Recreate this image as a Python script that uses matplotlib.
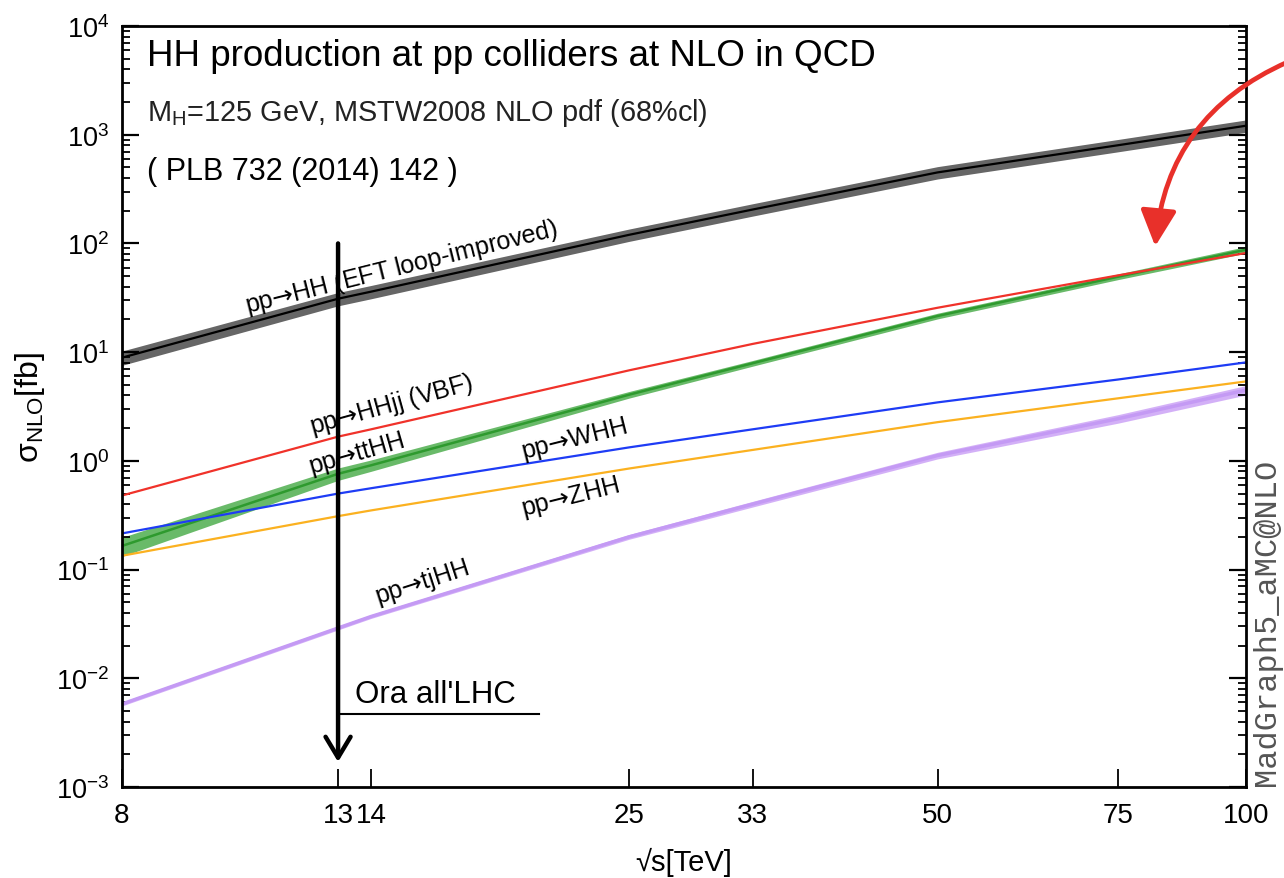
import numpy as np
import matplotlib
matplotlib.use('Agg')
import matplotlib.pyplot as plt
from matplotlib.ticker import FixedLocator, FuncFormatter, LogLocator, NullLocator, NullFormatter
from matplotlib.patches import FancyArrowPatch

plt.rcParams['font.family'] = ['Liberation Sans', 'DejaVu Sans']
plt.rcParams['mathtext.fontset'] = 'custom'
plt.rcParams['mathtext.rm'] = 'Liberation Sans'
plt.rcParams['mathtext.it'] = 'Liberation Sans:italic'
plt.rcParams['mathtext.bf'] = 'Liberation Sans:bold'
plt.rcParams['mathtext.sf'] = 'DejaVu Sans'

# ---------------- data ----------------
energies = [8, 13, 14, 25, 33, 50, 75, 100]          # sqrt(s) [TeV]
xtick_vals = [8, 13, 14, 25, 33, 50, 75, 100]
xtick_labels = ['8', '13', '14', '25', '33', '50', '75', '100']

xs_hh   = [8.9, 31.0, 36.0, 120.0, 205.0, 450.0, 800.0, 1210.0]
xs_vbf  = [0.48, 1.67, 1.95, 6.8, 11.9, 25.6, 50.8, 81.7]
xs_tthh = [0.165, 0.76, 0.91, 4.06, 7.9, 21.5, 49.4, 87.5]
xs_whh  = [0.215, 0.50, 0.56, 1.33, 1.95, 3.45, 5.6, 8.05]
xs_zhh  = [0.134, 0.31, 0.35, 0.85, 1.26, 2.27, 3.76, 5.38]
xs_tjhh = [0.0058, 0.029, 0.037, 0.20, 0.40, 1.12, 2.44, 4.48]

# relative uncertainty (band half-width)
err_hh   = [0.15, 0.14, 0.14, 0.13, 0.13, 0.13, 0.13, 0.13]
err_tthh = [0.20, 0.13, 0.12, 0.07, 0.06, 0.06, 0.06, 0.07]
err_tjhh = [0.04, 0.04, 0.04, 0.05, 0.06, 0.07, 0.09, 0.10]

ARROW = r'$\mathsf{→}$'

# ---------------- figure ----------------
fig = plt.figure(figsize=(12.84, 8.79), dpi=100)
ax = fig.add_axes([122/1284, 1-788/879, 1124/1284, 761/879])
ax.set_xscale('log')
ax.set_yscale('log')
ax.set_xlim(8, 100)
ax.set_ylim(1e-3, 1e4)

E = np.array(energies)

def band(vals, errs, color, alpha):
    v = np.array(vals); e = np.array(errs)
    ax.fill_between(E, v*(1-e), v*(1+e), color=color, alpha=alpha, lw=0)

band(xs_hh, err_hh, '#555555', 0.9)
ax.plot(E, xs_hh, color='black', lw=1.6)

band(xs_tthh, err_tthh, '#4fae4f', 0.85)
ax.plot(E, xs_tthh, color='#2e9a2e', lw=1.8)

band(xs_tjhh, err_tjhh, '#cfa8f7', 0.9)
ax.plot(E, xs_tjhh, color='#c49af4', lw=2.5)

ax.plot(E, xs_vbf, color='#f0322a', lw=1.6)
ax.plot(E, xs_whh, color='#1e3cf5', lw=1.6)
ax.plot(E, xs_zhh, color='#fbb120', lw=1.6)

# ---------------- axes styling ----------------
for s in ax.spines.values():
    s.set_linewidth(2.0)

ax.xaxis.set_major_locator(FixedLocator(xtick_vals))
ax.xaxis.set_major_formatter(FuncFormatter(
    lambda v, p: xtick_labels[xtick_vals.index(int(round(v)))] if int(round(v)) in xtick_vals else ''))
ax.xaxis.set_minor_locator(NullLocator())
ax.xaxis.set_minor_formatter(NullFormatter())

ax.yaxis.set_major_locator(FixedLocator([1e-3, 1e-2, 1e-1, 1e0, 1e1, 1e2, 1e3, 1e4]))
ax.yaxis.set_minor_locator(LogLocator(base=10, subs=np.arange(2, 10), numticks=100))
ax.yaxis.set_minor_formatter(NullFormatter())
ax.yaxis.set_major_formatter(FuncFormatter(
    lambda v, p: r'$10^{\mathrm{%s}}$' % str(int(round(np.log10(v))))))

ax.tick_params(axis='y', which='major', direction='in', length=12, width=1.6,
               left=True, right=True, labelsize=19.5, pad=9)
ax.tick_params(axis='y', which='minor', direction='in', length=6, width=1.3,
               left=True, right=True)
ax.tick_params(axis='x', which='major', direction='in', length=13, width=1.3,
               top=False, labelsize=20, pad=11)

ax.text(-0.082, 0.50, r'σ$_{\mathrm{NLO}}$[fb]', transform=ax.transAxes,
        rotation=90, ha='center', va='center', fontsize=23)
ax.text(0.50, -0.098, '√s[TeV]', transform=ax.transAxes,
        ha='center', va='center', fontsize=21)

# ---------------- header texts ----------------
fig.text(147/1284, 1-57/879, 'HH production at pp colliders at NLO in QCD',
         ha='left', va='center', fontsize=26.5)
fig.text(147/1284, 1-113/879, r'M$_{\mathrm{H}}$=125 GeV, MSTW2008 NLO pdf (68%cl)',
         ha='left', va='center', fontsize=20.8, color='#222222')
fig.text(147/1284, 1-172/879, '( PLB 732 (2014) 142 )',
         ha='left', va='center', fontsize=22)

# ---------------- curve labels ----------------
lab_kw = dict(ha='center', va='center', rotation_mode='anchor', fontsize=18)
ax.text(15.0, 60.7, 'pp' + ARROW + 'HH (EFT loop-improved)', rotation=14, **lab_kw)
ax.text(14.67, 3.33, 'pp' + ARROW + 'HHjj (VBF)', rotation=15.5, **lab_kw)
ax.text(13.56, 1.16, 'pp' + ARROW + 'ttHH', rotation=16, **lab_kw)
ax.text(22.1, 1.585, 'pp' + ARROW + 'WHH', rotation=14, **lab_kw)
ax.text(21.9, 0.465, 'pp' + ARROW + 'ZHH', rotation=14, **lab_kw)
ax.text(15.7, 0.078, 'pp' + ARROW + 'tjHH', rotation=18, **lab_kw)

# ---------------- LHC arrow ----------------
ax.annotate('', xy=(13, 0.0017), xytext=(13, 100),
            arrowprops=dict(arrowstyle='->,head_length=0.75,head_width=0.45',
                            lw=3.2, color='black', shrinkA=0, shrinkB=0,
                            mutation_scale=20))
ax.plot([13, 20.4], [0.0047, 0.0047], color='black', lw=1.5)
ax.text(13.5, 0.0060, "Ora all'LHC", fontsize=22.5, ha='left', va='baseline')

# ---------------- red curved arrow ----------------
arr = FancyArrowPatch((1290/1284, 1-62/879), (1155/1284, 1-250/879),
                      transform=fig.transFigure,
                      connectionstyle='arc3,rad=0.3',
                      arrowstyle='-|>,head_length=1.1,head_width=0.55',
                      mutation_scale=20, lw=3.4, color='#e8302a')
fig.patches.append(arr)

# ---------------- program tag ----------------
fig.text(1267/1284, 1-622/879, 'MadGraph5_aMC@NLO', rotation=90,
         ha='center', va='center', fontsize=23, family='Liberation Mono',
         color='#555555')

fig.savefig('out.png', dpi=100)
